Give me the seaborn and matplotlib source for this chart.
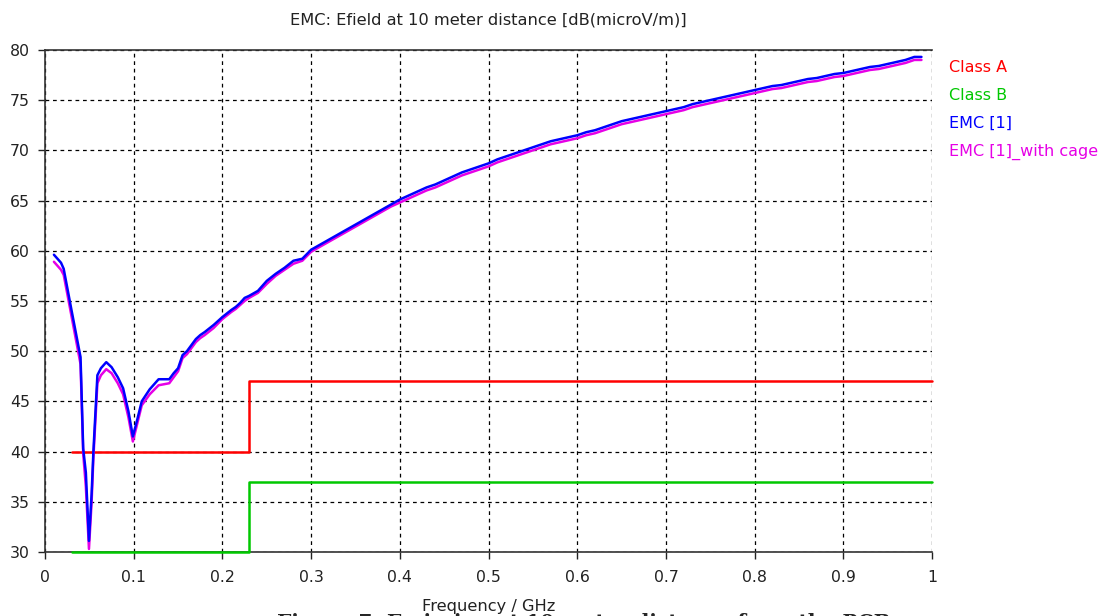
import pandas as pd
import seaborn as sns
import matplotlib.pyplot as plt


# EMC curves (frequency in GHz, field in dB(microV/m))
freq_emc = [0.01, 0.018, 0.021, 0.03, 0.04, 0.043, 0.046, 0.0495, 0.0525, 0.0545,
            0.059, 0.063, 0.069, 0.075, 0.082, 0.088, 0.094, 0.099, 0.104, 0.109,
            0.118, 0.128, 0.14, 0.145, 0.15, 0.155, 0.16, 0.165, 0.17, 0.175,
            0.18, 0.19, 0.2, 0.21, 0.215, 0.22, 0.225, 0.23, 0.24, 0.25,
            0.26, 0.27, 0.28, 0.29, 0.3, 0.31, 0.32, 0.33, 0.34, 0.35,
            0.36, 0.37, 0.38, 0.39, 0.4, 0.41, 0.42, 0.43, 0.44, 0.45,
            0.46, 0.47, 0.48, 0.49, 0.5, 0.51, 0.52, 0.53, 0.54, 0.55,
            0.56, 0.57, 0.58, 0.59, 0.6, 0.61, 0.62, 0.63, 0.64, 0.65,
            0.66, 0.67, 0.68, 0.69, 0.7, 0.71, 0.72, 0.73, 0.74, 0.75,
            0.76, 0.77, 0.78, 0.79, 0.8, 0.81, 0.82, 0.83, 0.84, 0.85,
            0.86, 0.87, 0.88, 0.89, 0.9, 0.91, 0.92, 0.93, 0.94, 0.95,
            0.96, 0.97, 0.98, 0.988]
emc_1 = [59.6, 58.8, 58.2, 54.0, 49.4, 40.3, 37.9, 31.1, 35.8, 40.0,
         47.6, 48.3, 48.9, 48.4, 47.4, 46.3, 44.0, 41.5, 43.2, 45.0,
         46.2, 47.2, 47.2, 47.8, 48.3, 49.6, 50.0, 50.6, 51.2, 51.6,
         51.9, 52.6, 53.4, 54.1, 54.4, 54.8, 55.3, 55.5, 56.0, 57.0,
         57.7, 58.3, 59.0, 59.2, 60.1, 60.6, 61.1, 61.6, 62.1, 62.6,
         63.1, 63.6, 64.1, 64.6, 65.1, 65.5, 65.9, 66.3, 66.6, 67.0,
         67.4, 67.8, 68.1, 68.4, 68.7, 69.1, 69.4, 69.7, 70.0, 70.3,
         70.6, 70.9, 71.1, 71.3, 71.5, 71.8, 72.0, 72.3, 72.6, 72.9,
         73.1, 73.3, 73.5, 73.7, 73.9, 74.1, 74.3, 74.6, 74.8, 75.0,
         75.2, 75.4, 75.6, 75.8, 76.0, 76.2, 76.4, 76.5, 76.7, 76.9,
         77.1, 77.2, 77.4, 77.6, 77.7, 77.9, 78.1, 78.3, 78.4, 78.6,
         78.8, 79.0, 79.3, 79.3]
emc_1_cage = [58.9, 58.1, 57.6, 53.4, 48.7, 39.8, 36.5, 30.3, 35.0, 39.4,
              46.8, 47.6, 48.2, 47.8, 46.8, 45.7, 43.4, 41.0, 42.8, 44.6,
              45.7, 46.6, 46.8, 47.4, 48.0, 49.3, 49.7, 50.3, 50.9, 51.3,
              51.6, 52.3, 53.2, 53.9, 54.2, 54.6, 55.0, 55.3, 55.8, 56.7,
              57.5, 58.1, 58.7, 59.0, 59.9, 60.4, 60.9, 61.4, 61.9, 62.4,
              62.9, 63.4, 63.9, 64.4, 64.8, 65.2, 65.6, 66.0, 66.3, 66.7,
              67.1, 67.5, 67.8, 68.1, 68.4, 68.8, 69.1, 69.4, 69.7, 70.0,
              70.3, 70.6, 70.8, 71.0, 71.2, 71.5, 71.7, 72.0, 72.3, 72.6,
              72.8, 73.0, 73.2, 73.4, 73.6, 73.8, 74.0, 74.3, 74.5, 74.7,
              74.9, 75.1, 75.3, 75.5, 75.7, 75.9, 76.1, 76.2, 76.4, 76.6,
              76.8, 76.9, 77.1, 77.3, 77.4, 77.6, 77.8, 78.0, 78.1, 78.3,
              78.5, 78.7, 79.0, 79.0]

# limit lines (step at 0.23 GHz)
freq_limit = [0.03, 0.23, 1.0]
class_a = [40, 47, 47]
class_b = [30, 37, 37]

df_emc = pd.DataFrame({'freq': freq_emc, 'emc': emc_1, 'cage': emc_1_cage})
df_lim = pd.DataFrame({'freq': freq_limit, 'a': class_a, 'b': class_b})

sns.set_style('white')
plt.rcParams['font.family'] = ['DejaVu Sans']

fig = plt.figure(figsize=(11.07, 6.16), dpi=100)
ax = fig.add_axes([0.0407, 0.104, 0.8013, 0.815])

sns.lineplot(x='freq', y='a', data=df_lim, ax=ax, color='#ff0000', lw=1.8,
             drawstyle='steps-post', label='Class A', zorder=3)
sns.lineplot(x='freq', y='b', data=df_lim, ax=ax, color='#00c800', lw=1.8,
             drawstyle='steps-post', label='Class B', zorder=3)
sns.lineplot(x='freq', y='emc', data=df_emc, ax=ax, color='#0000ff', lw=1.8,
             sort=False, estimator=None, label='EMC [1]', zorder=5)
sns.lineplot(x='freq', y='cage', data=df_emc, ax=ax, color='#e600e6', lw=1.8,
             sort=False, estimator=None, label='EMC [1]_with cage', zorder=4)
for line in ax.lines:
    line.set_clip_on(False)

ax.set_xlim(0, 1)
ax.set_ylim(30, 80)
ax.set_xticks([i / 10 for i in range(11)])
ax.set_xticklabels(['0', '0.1', '0.2', '0.3', '0.4', '0.5', '0.6', '0.7',
                    '0.8', '0.9', '1'])
ax.set_yticks(range(30, 81, 5))
ax.grid(True, color='black', linestyle=(0, (3, 3)), lw=0.9)
ax.tick_params(axis='both', which='both', length=5, width=1, labelsize=11.3,
               colors='#222222', direction='out', bottom=True, left=True,
               pad=6)
ax.tick_params(axis='x', pad=8)
for side in ['left', 'bottom', 'top']:
    ax.spines[side].set_color('#333333')
    ax.spines[side].set_linewidth(1.2)
ax.spines['right'].set_visible(False)

ax.set_title('EMC: Efield at 10 meter distance [dB(microV/m)]', fontsize=11.7,
             pad=18, color='#222222')
ax.set_xlabel('Frequency / GHz', fontsize=11.7, labelpad=10, color='#222222')
ax.set_ylabel('')

leg = ax.legend(loc='upper left', bbox_to_anchor=(1.010, 0.996), frameon=False,
                handlelength=0, handletextpad=0, labelspacing=0.81,
                borderpad=0, fontsize=11.5, labelcolor='linecolor')
for h in leg.legend_handles:
    h.set_visible(False)

# figure caption, cut off by the bottom edge
fig.text(0.527, -0.027, 'Figure 7: Emission at 10 meter distance from the PCB',
         ha='center', va='bottom', fontsize=14.5, fontweight='bold',
         family='DejaVu Serif')

fig.savefig('out.png', dpi=100)
